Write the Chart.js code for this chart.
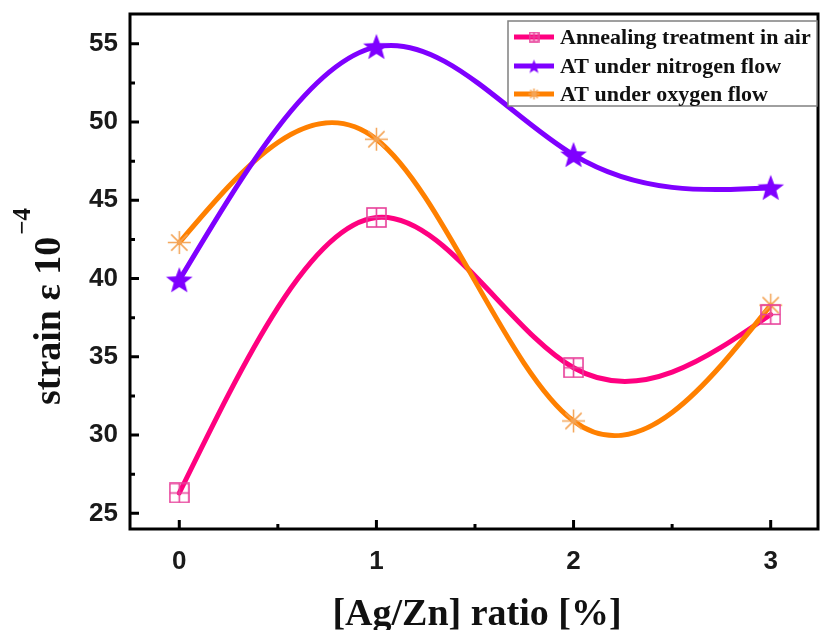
<!DOCTYPE html>
<html>
<head>
<meta charset="utf-8">
<title>strain vs Ag/Zn ratio</title>
<script src="https://cdn.jsdelivr.net/npm/chart.js@4.4.0/dist/chart.umd.min.js"></script>
<style>
  html, body { margin: 0; padding: 0; background: #fff; }
  #wrap { width: 823px; height: 630px; }
</style>
</head>
<body>
<div id="wrap"><canvas id="grafico" width="823" height="630"></canvas></div>
<script>
// dados medidos
const razaoAgZn = [0, 1, 2, 3];
const strainAr = [26.3, 43.9, 34.3, 37.7];
const strainNitrogenio = [39.9, 54.8, 47.9, 45.8];
const strainOxigenio = [42.3, 48.9, 30.9, 38.3];
const nomesSeries = ['Annealing treatment in air', 'AT under nitrogen flow', 'AT under oxygen flow'];
const ticksX = [0, 1, 2, 3];
const ticksY = [25, 30, 35, 40, 45, 50, 55];

const corAr = 'rgb(255,0,128)';
const corN2 = 'rgb(127,0,255)';
const corO2 = 'rgb(255,128,0)';

// marcadores desenhados num canvas auxiliar
function quadradoCruz(tam, cor) {
    const c = document.createElement('canvas');
    c.width = c.height = tam;
    const g = c.getContext('2d');
    g.strokeStyle = cor;
    g.lineWidth = 1.6;
    g.strokeRect(1, 1, tam - 2, tam - 2);
    g.beginPath();
    g.moveTo(tam / 2, 1); g.lineTo(tam / 2, tam - 1);
    g.moveTo(1, tam / 2); g.lineTo(tam - 1, tam / 2);
    g.stroke();
    return c;
}

function estrela(tam, cor) {
    const c = document.createElement('canvas');
    c.width = c.height = tam;
    const g = c.getContext('2d');
    const r = tam / 2, ri = r * 0.42;
    g.fillStyle = cor;
    g.beginPath();
    for (let i = 0; i < 10; i++) {
        const a = -Math.PI / 2 + i * Math.PI / 5;
        const rr = i % 2 === 0 ? r : ri;
        g.lineTo(r + rr * Math.cos(a), r + 1 + rr * Math.sin(a));
    }
    g.closePath();
    g.fill();
    return c;
}

function asterisco(tam, cor) {
    const c = document.createElement('canvas');
    c.width = c.height = tam;
    const g = c.getContext('2d');
    const r = tam / 2 - 1;
    g.strokeStyle = cor;
    g.lineWidth = 1.5;
    g.beginPath();
    for (let i = 0; i < 4; i++) {
        const a = i * Math.PI / 4;
        g.moveTo(tam / 2 - r * Math.cos(a), tam / 2 - r * Math.sin(a));
        g.lineTo(tam / 2 + r * Math.cos(a), tam / 2 + r * Math.sin(a));
    }
    g.stroke();
    return c;
}

const marcadores = [quadradoCruz(21, '#e8409a'), estrela(28, corN2), asterisco(25, '#f4a456')];
const marcadoresLegenda = [quadradoCruz(11, '#e8409a'), estrela(15, corN2), asterisco(13, '#f4a456')];
const coresLinha = [corAr, corN2, corO2];

// spline cúbica natural pelos pontos (em pixels), desenhada com curvas de Bézier
function desenharSpline(ctx, pts) {
    const n = pts.length;
    const h = [], m = new Array(n).fill(0);
    for (let i = 0; i < n - 1; i++) h.push(pts[i + 1].x - pts[i].x);
    // sistema tridiagonal para as segundas derivadas
    const a = [], b = [], c = [], d = [];
    for (let i = 1; i < n - 1; i++) {
        a.push(h[i - 1]);
        b.push(2 * (h[i - 1] + h[i]));
        c.push(h[i]);
        d.push(6 * ((pts[i + 1].y - pts[i].y) / h[i] - (pts[i].y - pts[i - 1].y) / h[i - 1]));
    }
    const k = b.length;
    for (let i = 1; i < k; i++) {
        const w = a[i] / b[i - 1];
        b[i] -= w * c[i - 1];
        d[i] -= w * d[i - 1];
    }
    for (let i = k - 1; i >= 0; i--) {
        m[i + 1] = (d[i] - (i < k - 1 ? c[i] * m[i + 2] : 0)) / b[i];
    }
    ctx.beginPath();
    ctx.moveTo(pts[0].x, pts[0].y);
    for (let i = 0; i < n - 1; i++) {
        const p0 = pts[i], p1 = pts[i + 1], hi = h[i];
        const incl = (p1.y - p0.y) / hi;
        const d0 = incl - hi * (2 * m[i] + m[i + 1]) / 6;
        const d1 = incl + hi * (m[i] + 2 * m[i + 1]) / 6;
        ctx.bezierCurveTo(p0.x + hi / 3, p0.y + d0 * hi / 3,
                          p1.x - hi / 3, p1.y - d1 * hi / 3,
                          p1.x, p1.y);
    }
    ctx.stroke();
}

const pluginCurvas = {
    id: 'curvas',
    beforeDatasetsDraw(chart) {
        const ctx = chart.ctx;
        ctx.save();
        ctx.lineWidth = 5;
        ctx.lineCap = 'round';
        ctx.lineJoin = 'round';
        [0, 2, 1].forEach(i => {
            const pts = chart.getDatasetMeta(i).data.map(p => ({ x: p.x, y: p.y }));
            ctx.strokeStyle = coresLinha[i];
            desenharSpline(ctx, pts);
        });
        ctx.restore();
    }
};

// moldura, ticks internos, títulos e legenda
const pluginMoldura = {
    id: 'moldura',
    afterDraw(chart) {
        const ctx = chart.ctx;
        const area = chart.chartArea;
        const sx = chart.scales.x, sy = chart.scales.y;
        ctx.save();
        ctx.strokeStyle = '#000';
        ctx.lineWidth = 3;
        ctx.strokeRect(area.left, area.top, area.right - area.left, area.bottom - area.top);

        ctx.beginPath();
        for (let v = 0; v <= 3.001; v += 0.5) {
            const x = sx.getPixelForValue(v);
            const len = Number.isInteger(v) ? 9 : 5;
            ctx.moveTo(x, area.bottom);
            ctx.lineTo(x, area.bottom - len);
        }
        for (let v = 25; v <= 55.001; v += 2.5) {
            const y = sy.getPixelForValue(v);
            const len = v % 5 === 0 ? 9 : 5;
            ctx.moveTo(area.left, y);
            ctx.lineTo(area.left + len, y);
        }
        ctx.stroke();

        // título do eixo x
        ctx.fillStyle = '#111';
        ctx.font = 'bold 38px "Liberation Serif"';
        ctx.textAlign = 'center';
        ctx.textBaseline = 'alphabetic';
        ctx.fillText('[Ag/Zn] ratio [%]', 477, 625);

        // título do eixo y com expoente
        ctx.translate(60, 405);
        ctx.rotate(-Math.PI / 2);
        ctx.textAlign = 'left';
        const principal = 'strain \u03b5 10';
        ctx.fillText(principal, 0, 0);
        const w = ctx.measureText(principal).width;
        ctx.font = 'bold 25px "Liberation Serif"';
        ctx.fillText('\u2212' + '4', w + 2, -30);
        ctx.restore();

        // legenda
        ctx.save();
        ctx.fillStyle = '#fff';
        ctx.fillRect(508, 21, 309, 85);
        ctx.strokeStyle = '#808080';
        ctx.lineWidth = 1.5;
        ctx.strokeRect(508, 21, 309, 85);
        const linhasY = [37, 66, 94];
        ctx.font = 'bold 22px "Liberation Serif"';
        ctx.textBaseline = 'alphabetic';
        ctx.fillStyle = '#111';
        nomesSeries.forEach((nome, i) => {
            const y = linhasY[i];
            ctx.strokeStyle = coresLinha[i];
            ctx.lineWidth = 5;
            ctx.beginPath();
            ctx.moveTo(514, y);
            ctx.lineTo(554, y);
            ctx.stroke();
            const mk = marcadoresLegenda[i];
            ctx.drawImage(mk, 534 - mk.width / 2, y - mk.height / 2);
            ctx.fillText(nome, 560, y + 7);
        });
        ctx.restore();
    }
};

const fonteTicks = { family: '"Liberation Sans", Arial, sans-serif', weight: 'bold', size: 26 };

// zera o espaço extra que a escala reserva para meio rótulo
function semPadding(s) {
    s.paddingTop = 0; s.paddingBottom = 0;
    s.paddingLeft = 0; s.paddingRight = 0;
}

new Chart(document.getElementById('grafico'), {
    type: 'line',
    data: {
        datasets: [
            { label: nomesSeries[0], data: razaoAgZn.map((x, i) => ({ x, y: strainAr[i] })) },
            { label: nomesSeries[1], data: razaoAgZn.map((x, i) => ({ x, y: strainNitrogenio[i] })) },
            { label: nomesSeries[2], data: razaoAgZn.map((x, i) => ({ x, y: strainOxigenio[i] })) }
        ].map((ds, i) => Object.assign(ds, {
            showLine: false,
            pointStyle: marcadores[i],
            borderColor: coresLinha[i],
            backgroundColor: coresLinha[i]
        }))
    },
    options: {
        responsive: false,
        animation: false,
        devicePixelRatio: 1,
        layout: { padding: { top: 14, right: 3, left: 0, bottom: 0 } },
        plugins: { legend: { display: false }, tooltip: { enabled: false } },
        scales: {
            x: {
                type: 'linear',
                min: -0.25,
                max: 3.24,
                afterBuildTicks: s => { s.ticks = ticksX.map(v => ({ value: v })); },
                afterFit: s => { s.height = 101; semPadding(s); },
                grid: { display: false, drawTicks: false },
                border: { display: false },
                ticks: { font: fonteTicks, color: '#1a1a1a', padding: 17 }
            },
            y: {
                type: 'linear',
                min: 24,
                max: 56.9,
                afterBuildTicks: s => { s.ticks = ticksY.map(v => ({ value: v })); },
                afterFit: s => { s.width = 130; semPadding(s); },
                grid: { display: false, drawTicks: false },
                border: { display: false },
                ticks: { font: fonteTicks, color: '#1a1a1a', padding: 12 }
            }
        }
    },
    plugins: [pluginCurvas, pluginMoldura]
});
</script>
</body>
</html>
